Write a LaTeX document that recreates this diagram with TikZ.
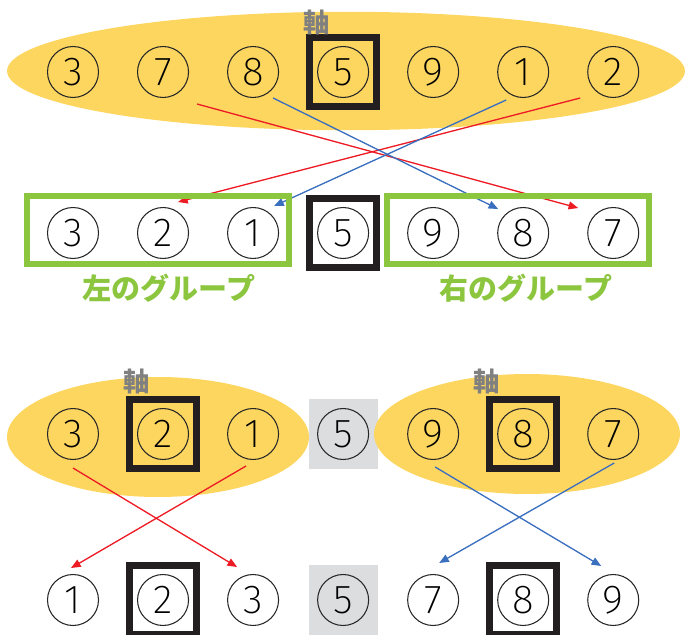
\documentclass[tikz,border=0pt]{standalone}
\usepackage{fontspec}
\newfontfamily\numfont{Fira Sans ExtraLight}
\newfontfamily\jpfont{Noto Sans CJK JP}
\usetikzlibrary{shapes.geometric, arrows.meta, positioning, fit, backgrounds}
\definecolor{humpyellow}{RGB}{253,214,96}
\definecolor{groupgreen}{RGB}{140,198,63}
\definecolor{arrred}{RGB}{237,28,36}
\definecolor{arrblue}{RGB}{58,110,190}
\definecolor{pivotblack}{RGB}{35,31,32}
\definecolor{fixgray}{RGB}{220,221,223}
\definecolor{jikugray}{RGB}{128,128,128}
\tikzset{
  num/.style={circle, draw=black!85, line width=0.6pt, minimum size=1.02cm, inner sep=0pt,
    font=\numfont\fontsize{23}{23}\selectfont},
  hump/.style={ellipse, fill=humpyellow, inner sep=0pt},
  pivot/.style={rectangle, draw=pivotblack, line width=0.14cm, inner xsep=0.155cm, inner ysep=0.165cm},
  fixed/.style={rectangle, fill=fixgray, inner sep=0.17cm},
  group/.style={rectangle, draw=groupgreen, line width=0.125cm, minimum width=5.24cm, minimum height=1.36cm},
  jiku/.style={inner sep=0pt, text=jikugray, font=\jpfont\bfseries\fontsize{15}{15}\selectfont},
  grouplabel/.style={inner sep=0pt, text=groupgreen, font=\jpfont\bfseries\fontsize{16.5}{16.5}\selectfont},
  redarr/.style={-{Triangle[length=5.5pt, width=4.5pt]}, line width=0.75pt, draw=arrred, fill=arrred},
  bluearr/.style={-{Triangle[length=5.5pt, width=4.5pt]}, line width=0.75pt, draw=arrblue, fill=arrblue},
}

\begin{document}
\begin{tikzpicture}[x=0.02cm, y=-0.02cm, node distance=0.76cm]
  \useasboundingbox (0,0) rectangle (686,635);

  % first split: whole row around pivot 5
  \node[hump, minimum width=13.56cm, minimum height=2.37cm] (tophump) at (346,71) {};
  \node[num] (top3) at (73,72) {3};
  \node[num, right=of top3] (top7) {7};
  \node[num, right=of top7] (top8) {8};
  \node[num, right=of top8] (top5) {5};
  \node[num, right=of top5] (top9) {9};
  \node[num, right=of top9] (top1) {1};
  \node[num, right=of top1] (top2) {2};
  \node[pivot, fit=(top5)] (toppiv) {};
  \node[jiku] (topaxis) at (317,22) {軸};

  \node[num] (mid3) at (73,233) {3};
  \node[num, right=of mid3] (mid2) {2};
  \node[num, right=of mid2] (mid1) {1};
  \node[num, right=of mid1] (mid5) {5};
  \node[num, right=of mid5] (mid9) {9};
  \node[num, right=of mid9] (mid8) {8};
  \node[num, right=of mid8] (mid7) {7};
  \node[pivot, fit=(mid5)] (midpiv) {};

  \draw[redarr] ([shift={(34,32)}]top7.center) -- ([shift={(-35,-25)}]mid7.center);
  \draw[redarr] ([shift={(-33,26)}]top2.center) -- ([shift={(15,-31)}]mid2.center);
  \draw[bluearr] ([shift={(20,26)}]top8.center) -- ([shift={(-25,-24)}]mid8.center);
  \draw[bluearr] ([shift={(-17,28)}]top1.center) -- ([shift={(21,-27)}]mid1.center);

  \node[group] (leftgrp) at (158,230) {};
  \node[group] (rightgrp) at (518,230) {};
  \node[grouplabel] (leftlbl) at (169,288) {左のグループ};
  \node[grouplabel] (rightlbl) at (526,288) {右のグループ};

  % second split: each group on its own
  \node[hump, minimum width=6.04cm, minimum height=2.4cm] (lefthump) at (158,437) {};
  \node[hump, minimum width=6.12cm, minimum height=2.4cm] (righthump) at (527,434) {};
  \node[num] (sub3) at (73,434) {3};
  \node[num, right=of sub3] (sub2) {2};
  \node[num, right=of sub2] (sub1) {1};
  \node[num, right=of sub1] (sub5) {5};
  \node[num, right=of sub5] (sub9) {9};
  \node[num, right=of sub9] (sub8) {8};
  \node[num, right=of sub8] (sub7) {7};
  \node[pivot, fit=(sub2)] (subpivl) {};
  \node[pivot, fit=(sub8)] (subpivr) {};
  \node[jiku] (leftaxis) at (137,381) {軸};
  \node[jiku] (rightaxis) at (487,381) {軸};

  \node[num] (fin1) at (73,600) {1};
  \node[num, right=of fin1] (fin2) {2};
  \node[num, right=of fin2] (fin3) {3};
  \node[num, right=of fin3] (fin5) {5};
  \node[num, right=of fin5] (fin7) {7};
  \node[num, right=of fin7] (fin8) {8};
  \node[num, right=of fin8] (fin9) {9};
  \node[pivot, fit=(fin2)] (finpivl) {};
  \node[pivot, fit=(fin8)] (finpivr) {};

  \begin{scope}[on background layer]
    \node[fixed, fit=(sub5)] (subfix) {};
    \node[fixed, fit=(fin5)] (finfix) {};
  \end{scope}

  \draw[redarr] ([shift={(0,34)}]sub3.center) -- ([shift={(-16,-33)}]fin3.center);
  \draw[redarr] ([shift={(-7,32)}]sub1.center) -- ([shift={(-2,-32)}]fin1.center);
  \draw[bluearr] ([shift={(2,33)}]sub9.center) -- ([shift={(-12,-34)}]fin9.center);
  \draw[bluearr] ([shift={(1,29)}]sub7.center) -- ([shift={(6,-37)}]fin7.center);
\end{tikzpicture}
\end{document}
